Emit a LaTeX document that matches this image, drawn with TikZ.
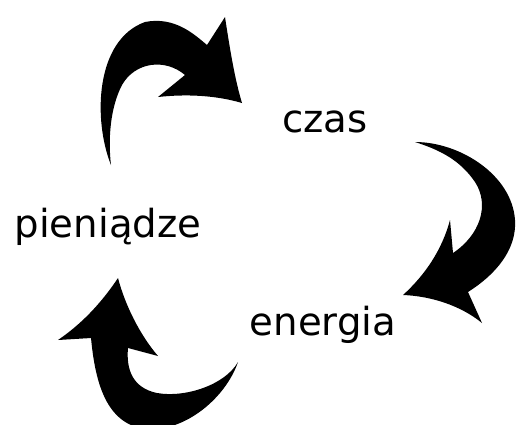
\documentclass[tikz,border=0pt]{standalone}
\usepackage{fontspec}
\setmainfont{DejaVu Sans}
\usepackage{tikz}
\usetikzlibrary{calc}

\begin{document}
\begin{tikzpicture}[x=0.02cm,y=-0.02cm,line join=round,
  word/.style={font=\fontsize{22}{26}\selectfont,inner sep=0pt,anchor=base},
  bigarrow/.style={fill=black}]
\useasboundingbox (0,0) rectangle (517,424);
\clip (0,0) rectangle (517,424);
\node[word] (czas) at (325,132) {czas};
\node[word] (pieniadze) at (108,237) {pieniądze};
\node[word] (energia) at (323,335) {energia};
\fill[bigarrow] (111,165) .. controls (93,120) and (95,40) .. (145,22)
  .. controls (175,16) and (195,35) .. (207,45)
  -- (225,17) .. controls (230,50) and (235,80) .. (242,103)
  .. controls (215,95) and (185,94) .. (158,97)
  -- (185,75)
  .. controls (165,58) and (135,62) .. (122,85)
  .. controls (110,108) and (108,140) .. (111,165) -- cycle;
\fill[bigarrow] (415,142) .. controls (460,142) and (512,175) .. (515,220)
  .. controls (517,250) and (495,275) .. (468,292)
  -- (482,323) .. controls (460,305) and (430,296) .. (403,295)
  .. controls (425,275) and (442,250) .. (450,220)
  -- (453,253)
  .. controls (480,235) and (490,205) .. (475,182)
  .. controls (460,160) and (440,150) .. (415,142) -- cycle;
\fill[bigarrow] (118,278) .. controls (100,305) and (80,325) .. (58,340)
  -- (91,338)
  .. controls (95,380) and (105,420) .. (140,428)
  .. controls (180,436) and (225,400) .. (238,362)
  .. controls (225,385) and (185,398) .. (157,393)
  .. controls (133,388) and (126,370) .. (128,348)
  -- (158,356) .. controls (140,335) and (125,305) .. (118,278) -- cycle;
\end{tikzpicture}
\end{document}
